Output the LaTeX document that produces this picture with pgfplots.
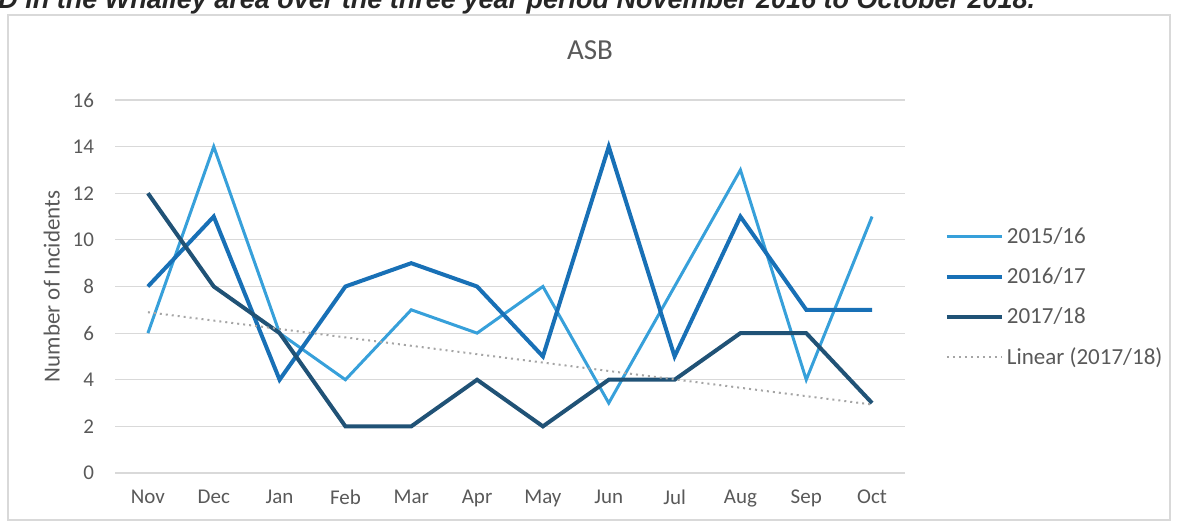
\documentclass[border=0pt]{standalone}
\usepackage{pgfplots}
\pgfplotsset{compat=1.18}
\usepackage{fontspec}
\setmainfont{Carlito}
\newfontfamily\arialfont{Liberation Sans}

\definecolor{lightblue}{RGB}{55,160,218}
\definecolor{midblue}{RGB}{24,112,182}
\definecolor{darkblue}{RGB}{32,82,118}
\definecolor{trendgray}{RGB}{165,165,165}
\definecolor{gridgray}{RGB}{217,217,217}
\definecolor{textgray}{RGB}{89,89,89}

\begin{document}
\begin{tikzpicture}
\useasboundingbox (0,0) rectangle (588.5pt,261.5pt);
% caption line cut off at the top of the scan
\node[anchor=base west, inner sep=0pt, text=black!85] at (-1pt,257.2pt)
  {\arialfont\bfseries\itshape\fontsize{13.5}{15}\selectfont D in the Whalley area over the three year period November 2016 to October 2018.};
\draw[gridgray, line width=0.75pt] (4pt,1.5pt) rectangle (585pt,254pt);
\node[text=textgray, font=\fontsize{14.5}{16}\selectfont] at (295pt,236.5pt) {ASB};

\begin{axis}[
at={(57.5pt,25pt)}, anchor=south west,
scale only axis,
width=395pt, height=186.5pt,
xmin=0.5, xmax=12.5,
ymin=0, ymax=16,
xtick={1,2,3,4,5,6,7,8,9,10,11,12},
xticklabels={Nov,Dec,Jan,Feb,Mar,Apr,May,Jun,Jul,Aug,Sep,Oct},
ytick={0,2,4,6,8,10,12,14,16},
axis line style={draw=none},
tick style={draw=none},
ymajorgrids,
major grid style={gridgray, line width=0.6pt},
/pgf/number format/assume math mode=true,
ticklabel style={font=\fontsize{10.5}{12}\selectfont, text=textgray},
xticklabel style={yshift=-5pt},
yticklabel style={xshift=-7pt},
ylabel={Number of Incidents},
ylabel style={at={(axis description cs:-0.08,0.5)}, anchor=center, font=\fontsize{11.5}{13}\selectfont, text=textgray},
legend cell align={left},
legend style={at={(axis description cs:1.05,0.67)}, anchor=north west, draw=none, fill=none,
  font=\fontsize{11.5}{13}\selectfont, text=textgray, row sep=6.5pt, inner sep=0pt,
  nodes={inner xsep=1.5pt}},
legend image code/.code={\draw[#1] (0pt,0pt) -- (27.5pt,0pt);},
]
\addplot[lightblue, line width=1.5pt] coordinates {
(1,6) (2,14) (3,6) (4,4) (5,7) (6,6) (7,8) (8,3) (9,8) (10,13) (11,4) (12,11)
};
\addlegendentry{2015/16}
\addplot[midblue, line width=2pt] coordinates {
(1,8) (2,11) (3,4) (4,8) (5,9) (6,8) (7,5) (8,14) (9,5) (10,11) (11,7) (12,7)
};
\addlegendentry{2016/17}
\addplot[darkblue, line width=2pt] coordinates {
(1,12) (2,8) (3,6) (4,2) (5,2) (6,4) (7,2) (8,4) (9,4) (10,6) (11,6) (12,3)
};
\addlegendentry{2017/18}
\addplot[trendgray, line width=1pt, dotted] coordinates {
(1,6.897) (12,2.936)
};
\addlegendentry{Linear (2017/18)}
\end{axis}
\end{tikzpicture}
\end{document}
